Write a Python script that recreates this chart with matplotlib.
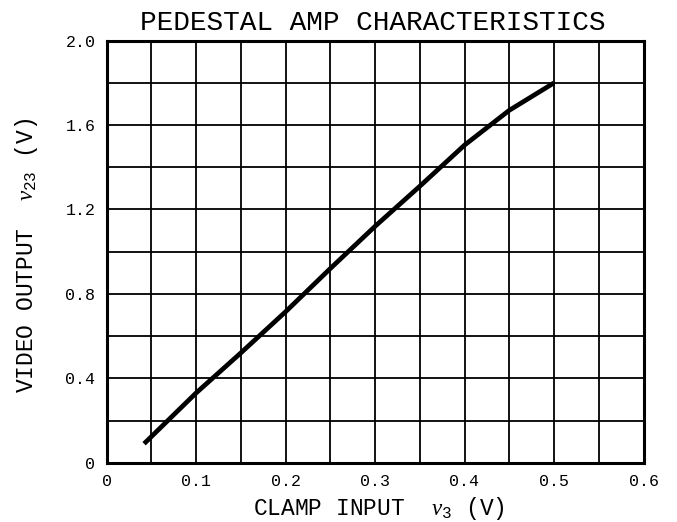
import matplotlib
matplotlib.use("Agg")
import matplotlib.pyplot as plt
import numpy as np

# Data
clamp_input = [0.042, 0.10, 0.15, 0.20, 0.25, 0.30, 0.35, 0.40, 0.45, 0.50]
video_output = [0.09, 0.33, 0.52, 0.715, 0.92, 1.12, 1.31, 1.505, 1.67, 1.80]

x_ticks = [0, 0.1, 0.2, 0.3, 0.4, 0.5, 0.6]
x_tick_labels = ["0", "0.1", "0.2", "0.3", "0.4", "0.5", "0.6"]
y_ticks = [0, 0.4, 0.8, 1.2, 1.6, 2.0]
y_tick_labels = ["0", "0.4", "0.8", "1.2", "1.6", "2.0"]

title = "PEDESTAL AMP CHARACTERISTICS"
x_label = r"CLAMP INPUT  $\mathit{v}_{\mathrm{3}}$ (V)"
y_label = r"VIDEO OUTPUT  $\mathit{v}_{\mathrm{23}}$ (V)"

plt.rcParams['font.family'] = ['Liberation Mono', 'DejaVu Sans Mono']
plt.rcParams['mathtext.fontset'] = 'custom'
plt.rcParams['mathtext.it'] = 'Liberation Serif:italic'
plt.rcParams['mathtext.rm'] = 'Liberation Mono'

W, H = 677, 522
fig = plt.figure(figsize=(W/100, H/100), dpi=100)
L, R, T, B = 106.5, 643.5, 40.7, 462.7
ax = fig.add_axes([L/W, 1 - B/H, (R-L)/W, (B-T)/H])

ax.set_xlim(0, 0.6)
ax.set_ylim(0, 2.0)

for xv in np.arange(0.05, 0.6, 0.05):
    ax.axvline(xv, color='black', lw=1.3, zorder=1)
for yv in np.arange(0.2, 2.0, 0.2):
    ax.axhline(yv, color='black', lw=1.3, zorder=1)

ax.plot(clamp_input, video_output, color='black', lw=3.4, solid_capstyle='butt', zorder=3)

for s in ax.spines.values():
    s.set_linewidth(2.2)
    s.set_color('black')

ax.set_xticks(x_ticks)
ax.set_xticklabels(x_tick_labels)
ax.set_yticks(y_ticks)
ax.set_yticklabels(y_tick_labels)
ax.tick_params(length=0, labelsize=12, pad=8)

fig.text(379/W, 1 - 509/H, x_label, fontsize=16.5, ha='center', va='center')
fig.text(27/W, 1 - 255/H, y_label, fontsize=16.5, ha='center', va='center', rotation=90)
fig.text(373/W, 1 - 23.5/H, title, fontsize=20, ha='center', va='center')

fig.savefig("out.png", dpi=100)
